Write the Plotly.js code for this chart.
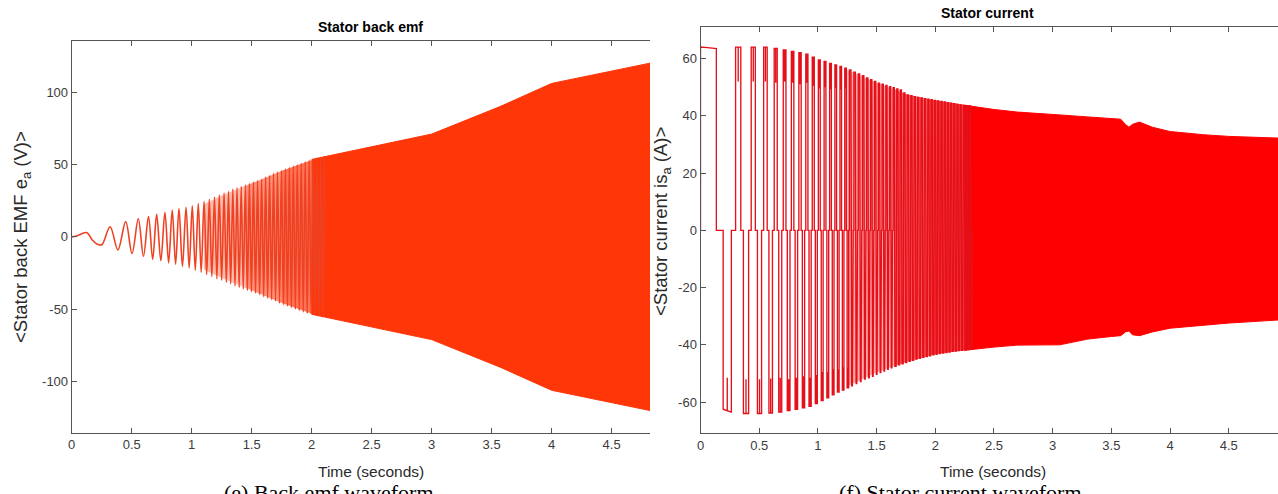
<!DOCTYPE html>
<html>
<head>
<meta charset="utf-8">
<script src="https://cdn.plot.ly/plotly-3.0.1.min.js"></script>
<style>html,body{margin:0;padding:0;background:#fff;overflow:hidden;}</style>
</head>
<body>
<div id="chart" style="width:1278px;height:494px;"></div>
<script>
// ---------------- DATA ----------------
// Left panel: stator back EMF, resolvable oscillation (alternating peaks)
const emfT = [0, 0.04, 0.125, 0.17, 0.21, 0.25, 0.32, 0.385, 0.45, 0.503, 0.555, 0.598, 0.64, 0.675, 0.708, 0.743, 0.777, 0.808, 0.838, 0.866, 0.894, 0.923, 0.953, 0.979, 1.005, 1.030, 1.055, 1.079, 1.103, 1.125, 1.147, 1.168, 1.19, 1.21, 1.23, 1.25, 1.27, 1.289, 1.307, 1.325, 1.343, 1.361, 1.378, 1.396, 1.413, 1.430, 1.447, 1.464, 1.481, 1.498, 1.515, 1.532, 1.549, 1.566, 1.583, 1.600, 1.616, 1.633, 1.649, 1.666, 1.682, 1.699, 1.715, 1.732, 1.748, 1.765, 1.781, 1.798, 1.814, 1.831, 1.847, 1.864, 1.88, 1.897, 1.913, 1.930, 1.946, 1.963, 1.979, 1.996, 2.012, 2.028, 2.044, 2.060, 2.076, 2.092, 2.108];
const emfV = [0, 0.6, 3, -2, -5, -5.5, 7, -9, 10.5, -11.5, 12.5, -13.5, 14, -15.5, 15.5, -16.5, 17, -18, 18.5, -19, 19.5, -20.5, 20.5, -21.5, 21.5, -23, 23, -24.5, 24.5, -26, 26, -27.5, 27.5, -29, 29, -30, 30.5, -31.5, 31.5, -32.5, 33, -34, 34, -35, 35, -36, 36, -37, 37, -38, 38, -39, 39, -40, 40, -41.5, 41.5, -42.5, 42.5, -43.5, 44, -44.5, 45, -46, 46, -47, 47, -48, 48, -49, 49, -50, 50, -51, 51, -52, 52, -53, 53, -53.5, 53.8, -54.2, 54.5, -54.8, 55.2, -55.5, 55.8];
// Left panel: envelopes of the half-resolved part (outer, inner, innermost) and of the dense part
const emfMidT  = [1.10, 1.25, 1.50, 1.75, 2.05];
const emfMidHi = [22.5, 28.5, 37, 45.5, 54.5];
const emfMidLo = [-22.5, -28.5, -37, -45.5, -54.5];
const emfCoreT  = [1.45, 1.60, 1.75, 2.05];
const emfCoreHi = [35, 40.5, 45.5, 54.5];
const emfCoreLo = [-35, -40.5, -45.5, -54.5];
const emfDeepT  = [1.75, 1.90, 2.05];
const emfDeepHi = [45.5, 50, 54.5];
const emfDeepLo = [-45.5, -50, -54.5];
const emfEnvT  = [2.00, 2.25, 2.50, 2.74, 3.00, 3.57, 4.00, 4.82];
const emfEnvHi = [53.5, 58, 62.5, 66.5, 71, 90, 106, 120];
const emfEnvLo = [-53.5, -58, -62.5, -66.5, -71, -90, -106, -120];

// Right panel: stator current, start-up segment
const curStartT = [0, 0, 0.06, 0.135, 0.135, 0.193, 0.193, 0.228, 0.228, 0.228, 0.263, 0.263, 0.299];
const curStartV = [0, 64, 63.8, 63.5, 0, 0, -62.5, -63, -51.5, -63, -63.5, 0, 0];
// Right panel: start time of each six-step current cycle, with its levels and notch depth
const curCycleT = [0.299, 0.432, 0.538, 0.628, 0.705, 0.774, 0.838, 0.897, 0.952, 1.004, 1.053, 1.100, 1.145, 1.188, 1.229, 1.269, 1.307, 1.344, 1.380, 1.415, 1.449, 1.482, 1.515, 1.547, 1.579, 1.610, 1.641, 1.672, 1.702, 1.732, 1.762, 1.792, 1.821, 1.850, 1.879, 1.908, 1.937, 1.965, 1.993, 2.021, 2.049, 2.077, 2.104, 2.131, 2.158, 2.185, 2.212, 2.239, 2.266, 2.292, 2.318];
const curHi = [64, 64, 64, 63.5, 63, 62.5, 62, 61.5, 60.5, 59.5, 59, 58.3, 57.8, 57.2, 56.6, 56, 55.2, 54.6, 54, 53.2, 52.6, 52, 51.4, 51, 50.6, 50.2, 49.8, 49.4, 49, 48, 47.3, 47, 46.7, 46.4, 46.2, 46, 45.8, 45.6, 45.4, 45.2, 45, 44.8, 44.6, 44.4, 44.2, 44, 43.8, 43.6, 43.5, 43.4, 43.2];
const curLo = [-64, -64, -63.8, -63.5, -63, -62.5, -62, -61.5, -60.5, -59.5, -58.5, -57.5, -56.5, -55.8, -55, -54.3, -53.5, -52.8, -52, -51.5, -51, -50.3, -49.7, -49.2, -48.6, -48, -47.5, -47, -46.6, -46.2, -45.8, -45.4, -45, -44.7, -44.4, -44.1, -43.8, -43.5, -43.3, -43.1, -42.9, -42.7, -42.5, -42.3, -42.2, -42, -41.9, -41.8, -41.7, -41.6, -41.5];
const curNotch = [12, 12, 12, 12, 11, 11, 11, 10, 10, 10, 9, 9, 8, 8, 7, 7, 6, 6, 5, 5, 4, 4, 3, 3, 2, 2, 0, 0, 0, 0, 0, 0, 0, 0, 0, 0, 0, 0, 0, 0, 0, 0, 0, 0, 0, 0, 0, 0, 0, 0, 0];
// Right panel: envelopes of the half-resolved part (outer, inner, innermost) and of the dense part
const curMidT  = [1.25, 1.50, 1.75, 2.00, 2.30];
const curMidHi = [56, 51.5, 47.5, 45.4, 43.5];
const curMidLo = [-54.5, -49.7, -46, -43.3, -41.6];
const curCoreT  = [1.65, 1.75, 2.00, 2.30];
const curCoreHi = [49.5, 47.5, 45.4, 43.5];
const curCoreLo = [-47.2, -46, -43.3, -41.6];
const curDeepT  = [1.95, 2.10, 2.30];
const curDeepHi = [45.7, 44.6, 43.5];
const curDeepLo = [-43.6, -42.5, -41.6];
const curEnvT  = [2.25, 2.50, 2.70, 2.90, 3.06, 3.30, 3.50, 3.58, 3.62, 3.65, 3.68, 3.74, 3.85, 4.00, 4.28, 4.50, 4.93];
const curEnvHi = [43.7, 42.2, 41.3, 40.6, 40.3, 39.6, 39.2, 38.8, 37, 36, 37, 37.8, 36, 34.5, 33.4, 32.8, 32.2];
const curEnvLo = [-41.9, -40.8, -40.1, -40.0, -40.0, -38, -37.1, -36.8, -35.5, -35.2, -36.5, -36.8, -35.5, -34.2, -33.2, -32.4, -31.3];

// Ticks and texts
const xTickVals = [0, 0.5, 1, 1.5, 2, 2.5, 3, 3.5, 4, 4.5];
const xTickText = ['0', '0.5', '1', '1.5', '2', '2.5', '3', '3.5', '4', '4.5'];
const emfTickVals = [-100, -50, 0, 50, 100];
const emfTickText = ['-100', '-50', '0', '50', '100'];
const curTickVals = [-60, -40, -20, 0, 20, 40, 60];
const curTickText = ['-60', '-40', '-20', '0', '20', '40', '60'];
const titles = ['Stator back emf', 'Stator current'];
const xLabel = 'Time (seconds)';
const yLabels = ['&lt;Stator back EMF e<sub>a</sub> (V)&gt;', '&lt;Stator current is<sub>a</sub> (A)&gt;'];
const captions = ['(e) Back emf waveform', '(f) Stator current waveform'];

// ---------------- BUILD ----------------
const W = 1278, H = 494;
const px = v => v / W, py = v => 1 - v / H;

// current step waveform from cycle starts
const cx = curStartT.slice(), cy = curStartV.slice();
for (let i = 0; i < curCycleT.length - 1; i++) {
  const s = curCycleT[i], p = curCycleT[i + 1] - s, hi = curHi[i], lo = curLo[i], d = curNotch[i];
  const a = s + p / 3, b = s + p / 2, c = s + 5 * p / 6, e = s + p;
  cx.push(s, s); cy.push(0, hi);
  if (d > 0) { const m = (s + a) / 2; cx.push(m, m, m); cy.push(hi, hi - d, hi); }
  cx.push(a, a, b, b); cy.push(hi, 0, 0, lo);
  if (d > 0) { const m = (b + c) / 2; cx.push(m, m, m); cy.push(lo, lo + d, lo); }
  cx.push(c, c, e); cy.push(lo, 0, 0);
}
const envPoly = (t, hi, lo) => ({ x: t.concat(t.slice().reverse()), y: hi.concat(lo.slice().reverse()) });

const EMF_LINE = 'rgb(238,66,36)', EMF_FILL = 'rgb(255,54,8)', EMF_HALF = 'rgba(255,62,20,0.35)';
const CUR_LINE = 'rgb(228,16,26)', CUR_FILL = 'rgb(255,0,0)', CUR_HALF = 'rgba(255,10,10,0.35)';

const fillTrace = (poly, color, xa, ya, lw) => ({ x: poly.x, y: poly.y, xaxis: xa, yaxis: ya, mode: 'lines', fill: 'toself', fillcolor: color, line: { color: color, width: lw || 0 }, hoverinfo: 'skip' });

const traces = [
  fillTrace(envPoly(emfMidT, emfMidHi, emfMidLo), EMF_HALF, 'x', 'y'),
  fillTrace(envPoly(emfCoreT, emfCoreHi, emfCoreLo), EMF_HALF, 'x', 'y'),
  fillTrace(envPoly(emfDeepT, emfDeepHi, emfDeepLo), EMF_HALF, 'x', 'y'),
  fillTrace(envPoly(emfEnvT, emfEnvHi, emfEnvLo), EMF_FILL, 'x', 'y', 1),
  { x: emfT, y: emfV, xaxis: 'x', yaxis: 'y', mode: 'lines', line: { color: EMF_LINE, width: 1.6, shape: 'spline', smoothing: 1 } },
  fillTrace(envPoly(curMidT, curMidHi, curMidLo), CUR_HALF, 'x2', 'y2'),
  fillTrace(envPoly(curCoreT, curCoreHi, curCoreLo), CUR_HALF, 'x2', 'y2'),
  fillTrace(envPoly(curDeepT, curDeepHi, curDeepLo), CUR_HALF, 'x2', 'y2'),
  fillTrace(envPoly(curEnvT, curEnvHi, curEnvLo), CUR_FILL, 'x2', 'y2', 1),
  { x: cx, y: cy, xaxis: 'x2', yaxis: 'y2', mode: 'lines', line: { color: CUR_LINE, width: 1.35 } }
];

const AX = '#555555';
const FONT = 'Liberation Sans, Arial, sans-serif';
const tickFont = { family: FONT, size: 13, color: '#3c3c3c' };
const baseAx = {
  showline: true, linecolor: AX, linewidth: 1, ticks: 'inside', ticklen: 5, tickcolor: AX, tickwidth: 1,
  showgrid: false, zeroline: false, tickfont: tickFont, fixedrange: true
};

const layout = {
  width: W, height: H, margin: { l: 0, r: 0, t: 0, b: 0 }, showlegend: false,
  paper_bgcolor: '#ffffff', plot_bgcolor: '#ffffff',
  xaxis: Object.assign({}, baseAx, { domain: [px(71.7), px(650)], range: [0, 4.82], anchor: 'y', mirror: 'ticks', tickvals: xTickVals, ticktext: xTickText }),
  yaxis: Object.assign({}, baseAx, { domain: [py(432.7), py(41)], range: [-135.3, 135.3], anchor: 'x', tickvals: emfTickVals, ticktext: emfTickText }),
  xaxis2: Object.assign({}, baseAx, { domain: [px(700.5), 1], range: [0, 4.92], anchor: 'y2', mirror: 'ticks', tickvals: xTickVals, ticktext: xTickText }),
  yaxis2: Object.assign({}, baseAx, { domain: [py(433.3), py(27.3)], range: [-70.9, 70.9], anchor: 'x2', tickvals: curTickVals, ticktext: curTickText }),
  annotations: [
    { text: '<b>' + titles[0] + '</b>', x: px(370), y: py(27), xref: 'paper', yref: 'paper', showarrow: false, xanchor: 'center', yanchor: 'middle', font: { family: FONT, size: 14, color: '#000' } },
    { text: '<b>' + titles[1] + '</b>', x: px(988), y: py(13), xref: 'paper', yref: 'paper', showarrow: false, xanchor: 'center', yanchor: 'middle', font: { family: FONT, size: 14, color: '#000' } },
    { text: xLabel, x: px(371), y: py(471), xref: 'paper', yref: 'paper', showarrow: false, xanchor: 'center', yanchor: 'middle', font: { family: FONT, size: 15.5, color: '#2a2a2a' } },
    { text: xLabel, x: px(993), y: py(471), xref: 'paper', yref: 'paper', showarrow: false, xanchor: 'center', yanchor: 'middle', font: { family: FONT, size: 15.5, color: '#2a2a2a' } },
    { text: yLabels[0], x: px(22), y: py(237), xref: 'paper', yref: 'paper', showarrow: false, textangle: -90, xanchor: 'center', yanchor: 'middle', font: { family: FONT, size: 18.5, color: '#2a2a2a' } },
    { text: yLabels[1], x: px(662), y: py(222), xref: 'paper', yref: 'paper', showarrow: false, textangle: -90, xanchor: 'center', yanchor: 'middle', font: { family: FONT, size: 18.5, color: '#2a2a2a' } },
    { text: captions[0], x: px(329), y: py(478), xref: 'paper', yref: 'paper', showarrow: false, xanchor: 'center', yanchor: 'top', font: { family: 'Liberation Serif, Times New Roman, serif', size: 22, color: '#000' } },
    { text: captions[1], x: px(960), y: py(478), xref: 'paper', yref: 'paper', showarrow: false, xanchor: 'center', yanchor: 'top', font: { family: 'Liberation Serif, Times New Roman, serif', size: 22, color: '#000' } }
  ]
};

Plotly.newPlot('chart', traces, layout, { displayModeBar: false, staticPlot: true });
</script>
</body>
</html>
